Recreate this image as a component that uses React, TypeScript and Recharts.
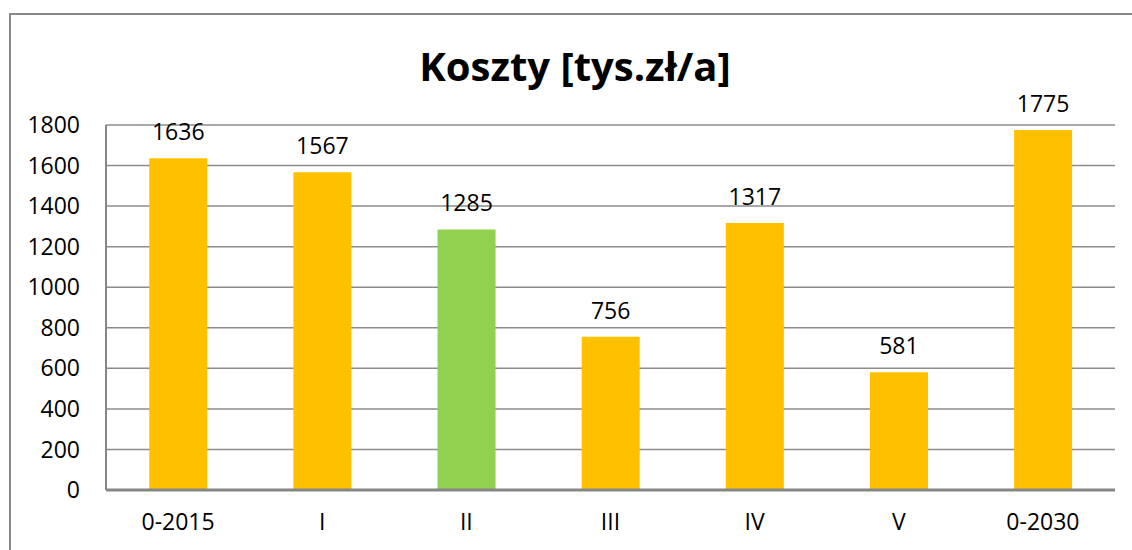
import React from 'react';
import { BarChart, Bar, XAxis, YAxis, CartesianGrid, LabelList, Cell } from 'recharts';

const categories = ['0-2015', 'I', 'II', 'III', 'IV', 'V', '0-2030'];
const costs = [1636, 1567, 1285, 756, 1317, 581, 1775];
const barColors = ['#FFC000', '#FFC000', '#92D050', '#FFC000', '#FFC000', '#FFC000', '#FFC000'];
const yTicks = [0, 200, 400, 600, 800, 1000, 1200, 1400, 1600, 1800];

const data = categories.map((name, i) => ({ name, value: costs[i] }));

const font = '"Open Sans", sans-serif';

const App: React.FC = () => {
  return (
    <div style={{ position: 'absolute', left: 0, top: 0, width: 1132, height: 550, overflow: 'hidden', background: '#fff' }}>
      <div
        style={{
          position: 'absolute',
          left: 9,
          top: 13,
          width: 1200,
          height: 600,
          borderLeft: '2px solid #878787',
          borderTop: '2px solid #878787',
        }}
      />
      <div
        style={{
          position: 'absolute',
          left: 0,
          width: 1150,
          top: 38,
          textAlign: 'center',
          fontFamily: font,
          fontWeight: 700,
          fontSize: 40,
          color: '#000',
        }}
      >
        Koszty [tys.zł/a]
      </div>
      <div style={{ position: 'absolute', left: 0, top: 0 }}>
        <BarChart
          width={1132}
          height={550}
          data={data}
          margin={{ top: 125, right: 17, left: 0, bottom: 0 }}
          barCategoryGap="30%"
        >
          <CartesianGrid vertical={false} stroke="#8c8c8c" strokeWidth={1.5} />
          <XAxis
            dataKey="name"
            height={60}
            tickLine={false}
            tickSize={0}
            tickMargin={24}
            axisLine={{ stroke: '#868686', strokeWidth: 3 }}
            tick={{ fill: '#000', fontSize: 23, fontFamily: font }}
          />
          <YAxis
            width={106}
            domain={[0, 1800]}
            ticks={yTicks}
            interval={0}
            tickLine={false}
            tickSize={0}
            tickMargin={26}
            axisLine={{ stroke: '#868686', strokeWidth: 2 }}
            tick={{ fill: '#000', fontSize: 23, fontFamily: font }}
          />
          <Bar dataKey="value" isAnimationActive={false}>
            {data.map((d, i) => (
              <Cell key={d.name} fill={barColors[i]} />
            ))}
            <LabelList dataKey="value" position="top" offset={18} fill="#000" fontSize={23} fontFamily={font} />
          </Bar>
        </BarChart>
      </div>
    </div>
  );
};

export default App;
